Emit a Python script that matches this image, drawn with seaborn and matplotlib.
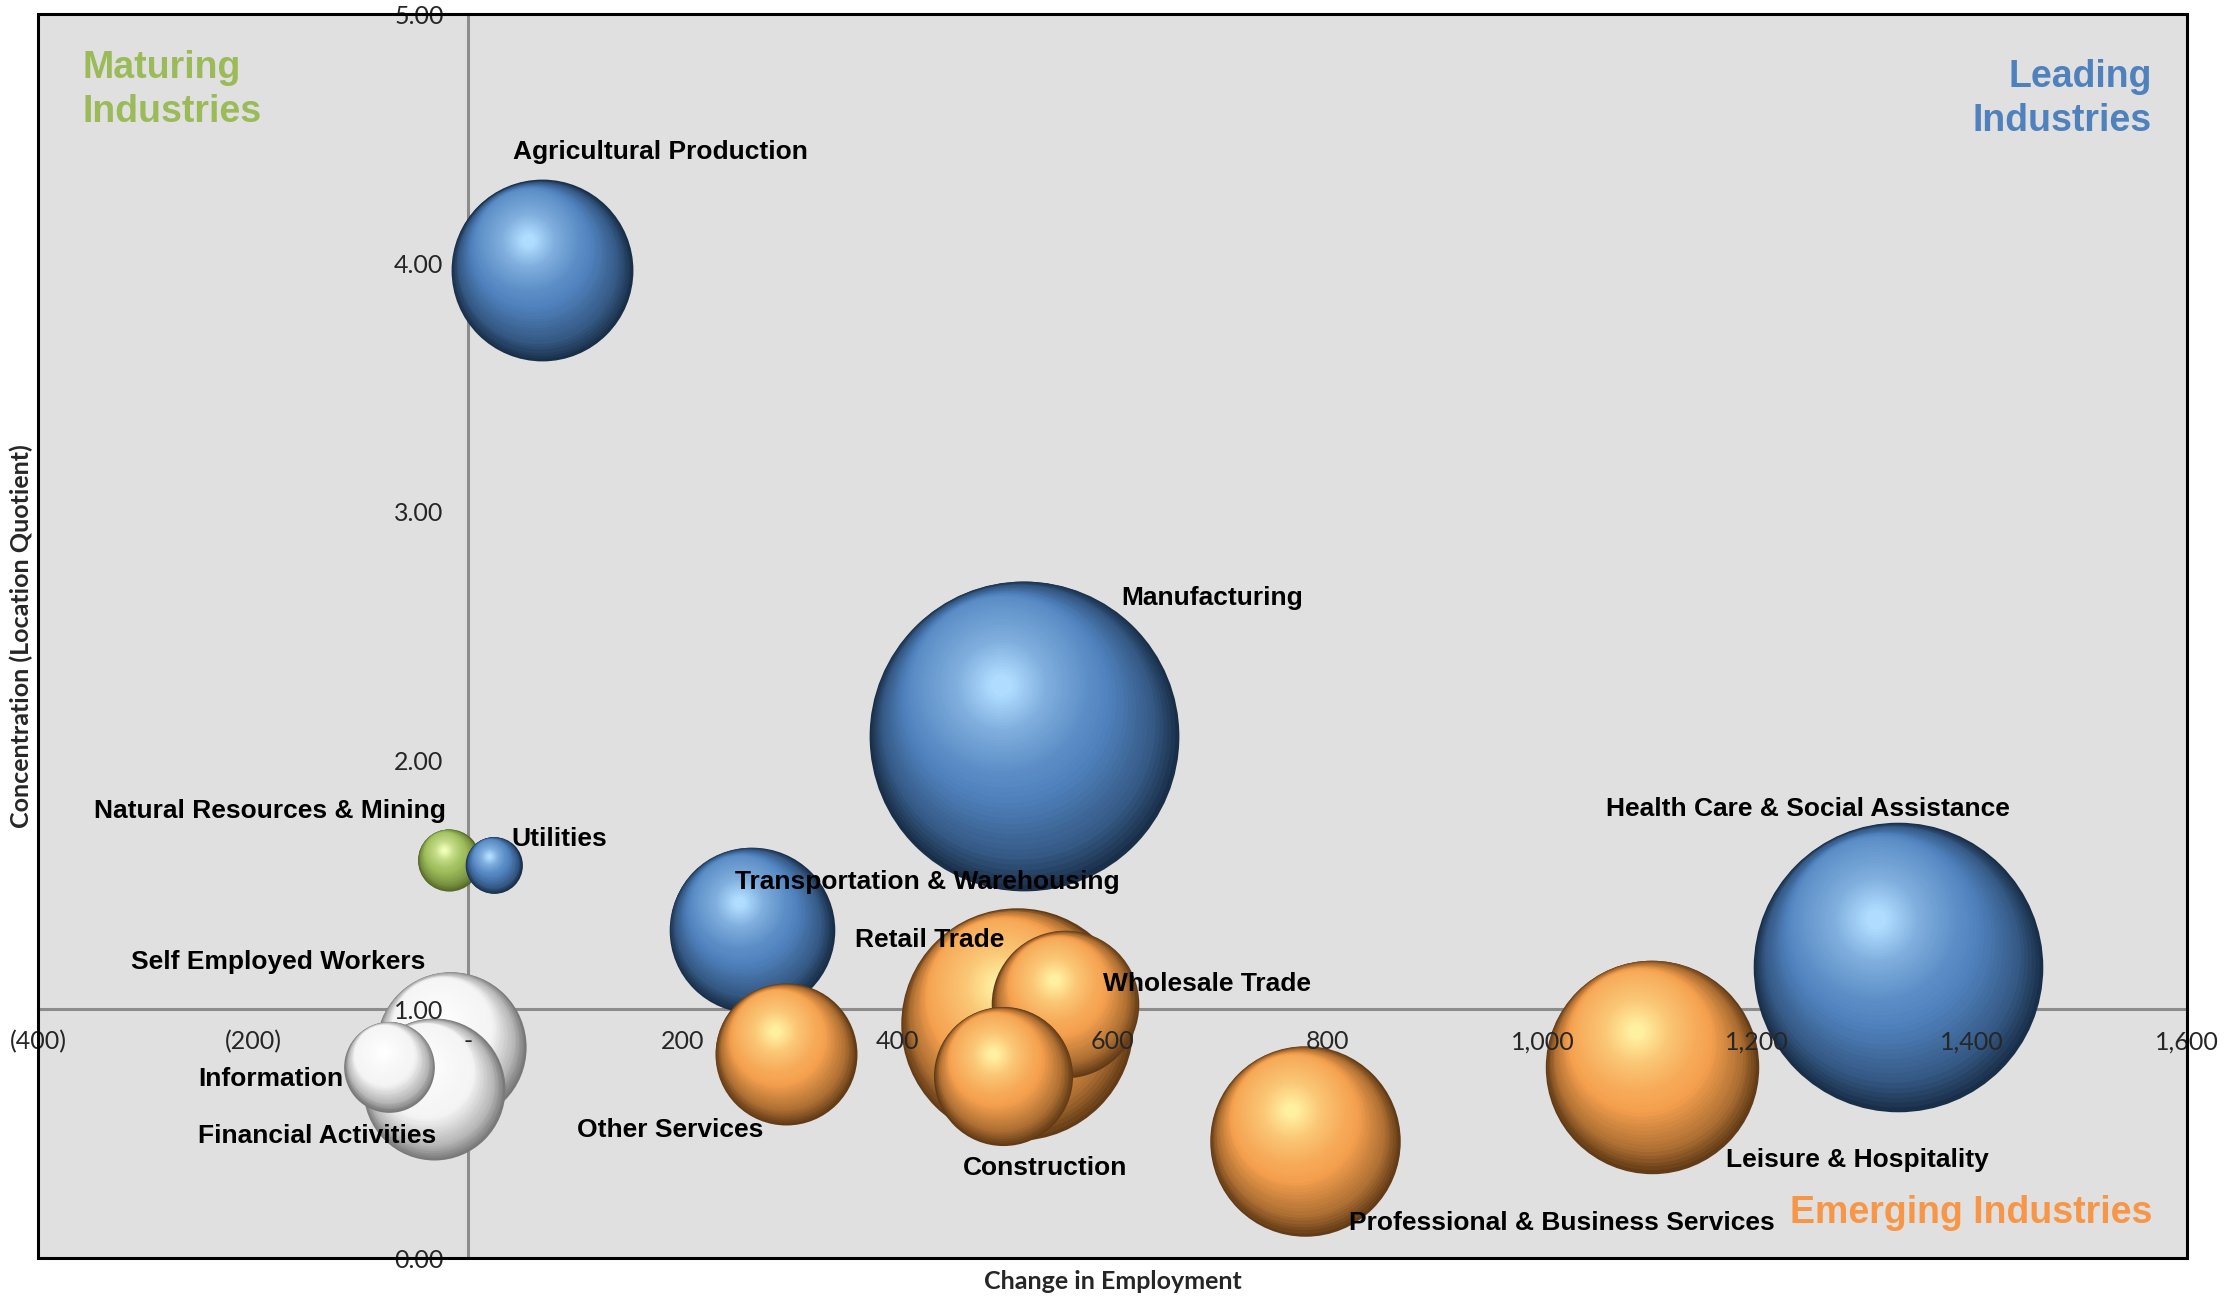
import numpy as np
import pandas as pd
import matplotlib
matplotlib.use("Agg")
import matplotlib.pyplot as plt
import matplotlib.transforms as mtransforms
from matplotlib.colors import to_rgb
from matplotlib.patches import Rectangle
import seaborn as sns

# data (bubble size = relative employment)
industries = [
    "Manufacturing", "Health Care & Social Assistance", "Retail Trade",
    "Leisure & Hospitality", "Professional & Business Services",
    "Agricultural Production", "Transportation & Warehousing",
    "Self Employed Workers", "Wholesale Trade", "Other Services",
    "Construction", "Financial Activities", "Information",
    "Natural Resources & Mining", "Utilities",
]
change_in_employment = [518, 1331, 511, 1102, 779, 69, 264, -16, 556, 296, 498, -32, -73, -18, 24]
location_quotient = [2.10, 1.17, 0.94, 0.77, 0.47, 3.97, 1.32, 0.85, 1.02, 0.82, 0.73, 0.68, 0.77, 1.60, 1.58]
employment = [11900, 10400, 6700, 5650, 4500, 4100, 3400, 2800, 2700, 2500, 2400, 2500, 1020, 480, 400]
group = ["leading", "leading", "emerging", "emerging", "emerging", "leading", "leading",
         "other", "emerging", "emerging", "emerging", "other", "other", "maturing", "leading"]

x_ticks = [-400, -200, 0, 200, 400, 600, 800, 1000, 1200, 1400, 1600]
x_tick_labels = ["(400)", "(200)", "-", "200", "400", "600", "800", "1,000", "1,200", "1,400", "1,600"]
y_ticks = [0, 1, 2, 3, 4, 5]
y_tick_labels = ["0.00", "1.00", "2.00", "3.00", "4.00", "5.00"]

# label placement (offset in points from bubble centre, alignment)
label_pos = {
    "Manufacturing": (70, 99, "left"),
    "Health Care & Social Assistance": (-65, 114, "center"),
    "Retail Trade": (-9, 61, "right"),
    "Leisure & Hospitality": (53, -67, "left"),
    "Professional & Business Services": (32, -59, "left"),
    "Agricultural Production": (-21, 85, "left"),
    "Transportation & Warehousing": (-12, 34, "left"),
    "Self Employed Workers": (-18, 61, "right"),
    "Wholesale Trade": (27, 15, "left"),
    "Other Services": (-16, -55, "right"),
    "Construction": (30, -66, "center"),
    "Financial Activities": (2, -34, "right"),
    "Information": (-33, -9, "right"),
    "Natural Resources & Mining": (-2, 35, "right"),
    "Utilities": (13, 19, "left"),
}

# edge / base / highlight colours per group
shades = {
    "leading": ("#0c1b2c", "#4f81bd", "#b0dcff"),
    "emerging": ("#3e2208", "#f5a04e", "#fff0a0"),
    "maturing": ("#44521c", "#9bbb59", "#f0ffb8"),
    "other": ("#5a5a5a", "#f4f4f4", "#ffffff"),
}

df = pd.DataFrame({
    "industry": industries,
    "change": change_in_employment,
    "lq": location_quotient,
    "emp": employment,
    "group": group,
})

sns.set_style("white")
plt.rcParams["font.family"] = ["Lato", "DejaVu Sans"]

fig = plt.figure(figsize=(22.27, 12.97), dpi=100)
ax = fig.add_axes([0.0171, 0.030, 0.965, 0.959])
ax.set_facecolor("#e0e0e0")

AREA = 4.18  # points^2 per size unit
n_layers = 50
light_dir = np.array([-0.15, 0.33])  # highlight shift, fraction of radius


def ramp(edge, base, hi, t):
    e, b, h = np.array(to_rgb(edge)), np.array(to_rgb(base)), np.array(to_rgb(hi))
    stops = [0.0, 0.12, 0.35, 0.75, 1.0]
    cols = [0.8 * e + 0.2 * b, 0.4 * e + 0.6 * b, b, 0.5 * b + 0.5 * h, h]
    return tuple(np.interp(t, stops, [c[i] for c in cols]) for i in range(3))


for i, row in df.iterrows():
    edge, base, hi = shades[row["group"]]
    s = AREA * row["emp"]
    r_pt = np.sqrt(s) / 2
    # outer rim through seaborn
    sns.scatterplot(data=df.iloc[[i]], x="change", y="lq", s=s,
                    color=ramp(edge, base, hi, 0.0), linewidth=0, legend=False,
                    ax=ax, zorder=2)
    # shaded interior: layers shrink and drift toward the light
    for k in range(1, n_layers):
        t = k / (n_layers - 1)
        f = 1 - 0.93 * t
        shift = min(2.15 * t, 1.0) * light_dir * r_pt
        tr = mtransforms.offset_copy(ax.transData, fig=fig,
                                     x=shift[0], y=shift[1], units="points")
        ax.scatter([row["change"]], [row["lq"]], s=s * f * f,
                   color=[ramp(edge, base, hi, t)], linewidths=0,
                   transform=tr, zorder=2)

for _, row in df.iterrows():
    dx, dy, ha = label_pos[row["industry"]]
    ax.annotate(row["industry"], xy=(row["change"], row["lq"]), xytext=(dx, dy),
                textcoords="offset points", ha=ha, va="center", fontsize=19,
                fontweight="bold", family=["Liberation Sans", "DejaVu Sans"],
                color="black", zorder=30)

ax.set_xlim(-400, 1600)
ax.set_ylim(0, 5)
ax.set_xticks(x_ticks)
ax.set_xticklabels(x_tick_labels)
ax.set_yticks(y_ticks)
ax.set_yticklabels(y_tick_labels)
ax.tick_params(axis="x", direction="out", length=5, width=1.5, color="#8c8c8c",
               pad=10, labelsize=18)
ax.tick_params(axis="y", direction="out", length=6.5, width=1.5, color="#8c8c8c",
               pad=11, labelsize=18)

for side in ["top", "right"]:
    ax.spines[side].set_visible(False)
ax.spines["left"].set_position(("data", 0))
ax.spines["bottom"].set_position(("data", 1))
for side in ["left", "bottom"]:
    ax.spines[side].set_color("#8c8c8c")
    ax.spines[side].set_linewidth(2.2)
    ax.spines[side].set_zorder(0.8)
ax.xaxis.set_zorder(35)
ax.yaxis.set_zorder(35)

ax.add_patch(Rectangle((0, 0), 1, 1, transform=ax.transAxes, fill=False,
                       edgecolor="black", linewidth=2.2, zorder=40, clip_on=False))

ax.set_xlabel("Change in Employment", fontsize=18, fontweight="bold")
ax.set_ylabel("Concentration (Location Quotient)", fontsize=18, fontweight="bold")
ax.xaxis.set_label_coords(0.5, -0.0185)
ax.xaxis.label.set_verticalalignment("center")
ax.yaxis.set_label_coords(-0.008, 0.5)
ax.yaxis.label.set_verticalalignment("center")

quad_font = dict(fontsize=27, fontweight="bold", family=["Liberation Sans", "DejaVu Sans"],
                 transform=ax.transAxes, zorder=30, linespacing=1.3)
ax.text(0.0205, 0.939, "Maturing\nIndustries", color="#9bbb59", ha="left", va="center", **quad_font)
ax.text(0.9835, 0.932, "Leading\nIndustries", color="#4f81bd", ha="right", va="center",
        multialignment="right", **quad_font)
ax.text(0.984, 0.0365, "Emerging Industries", color="#f79646", ha="right", va="center", **quad_font)

fig.savefig("out.png", dpi=100)
